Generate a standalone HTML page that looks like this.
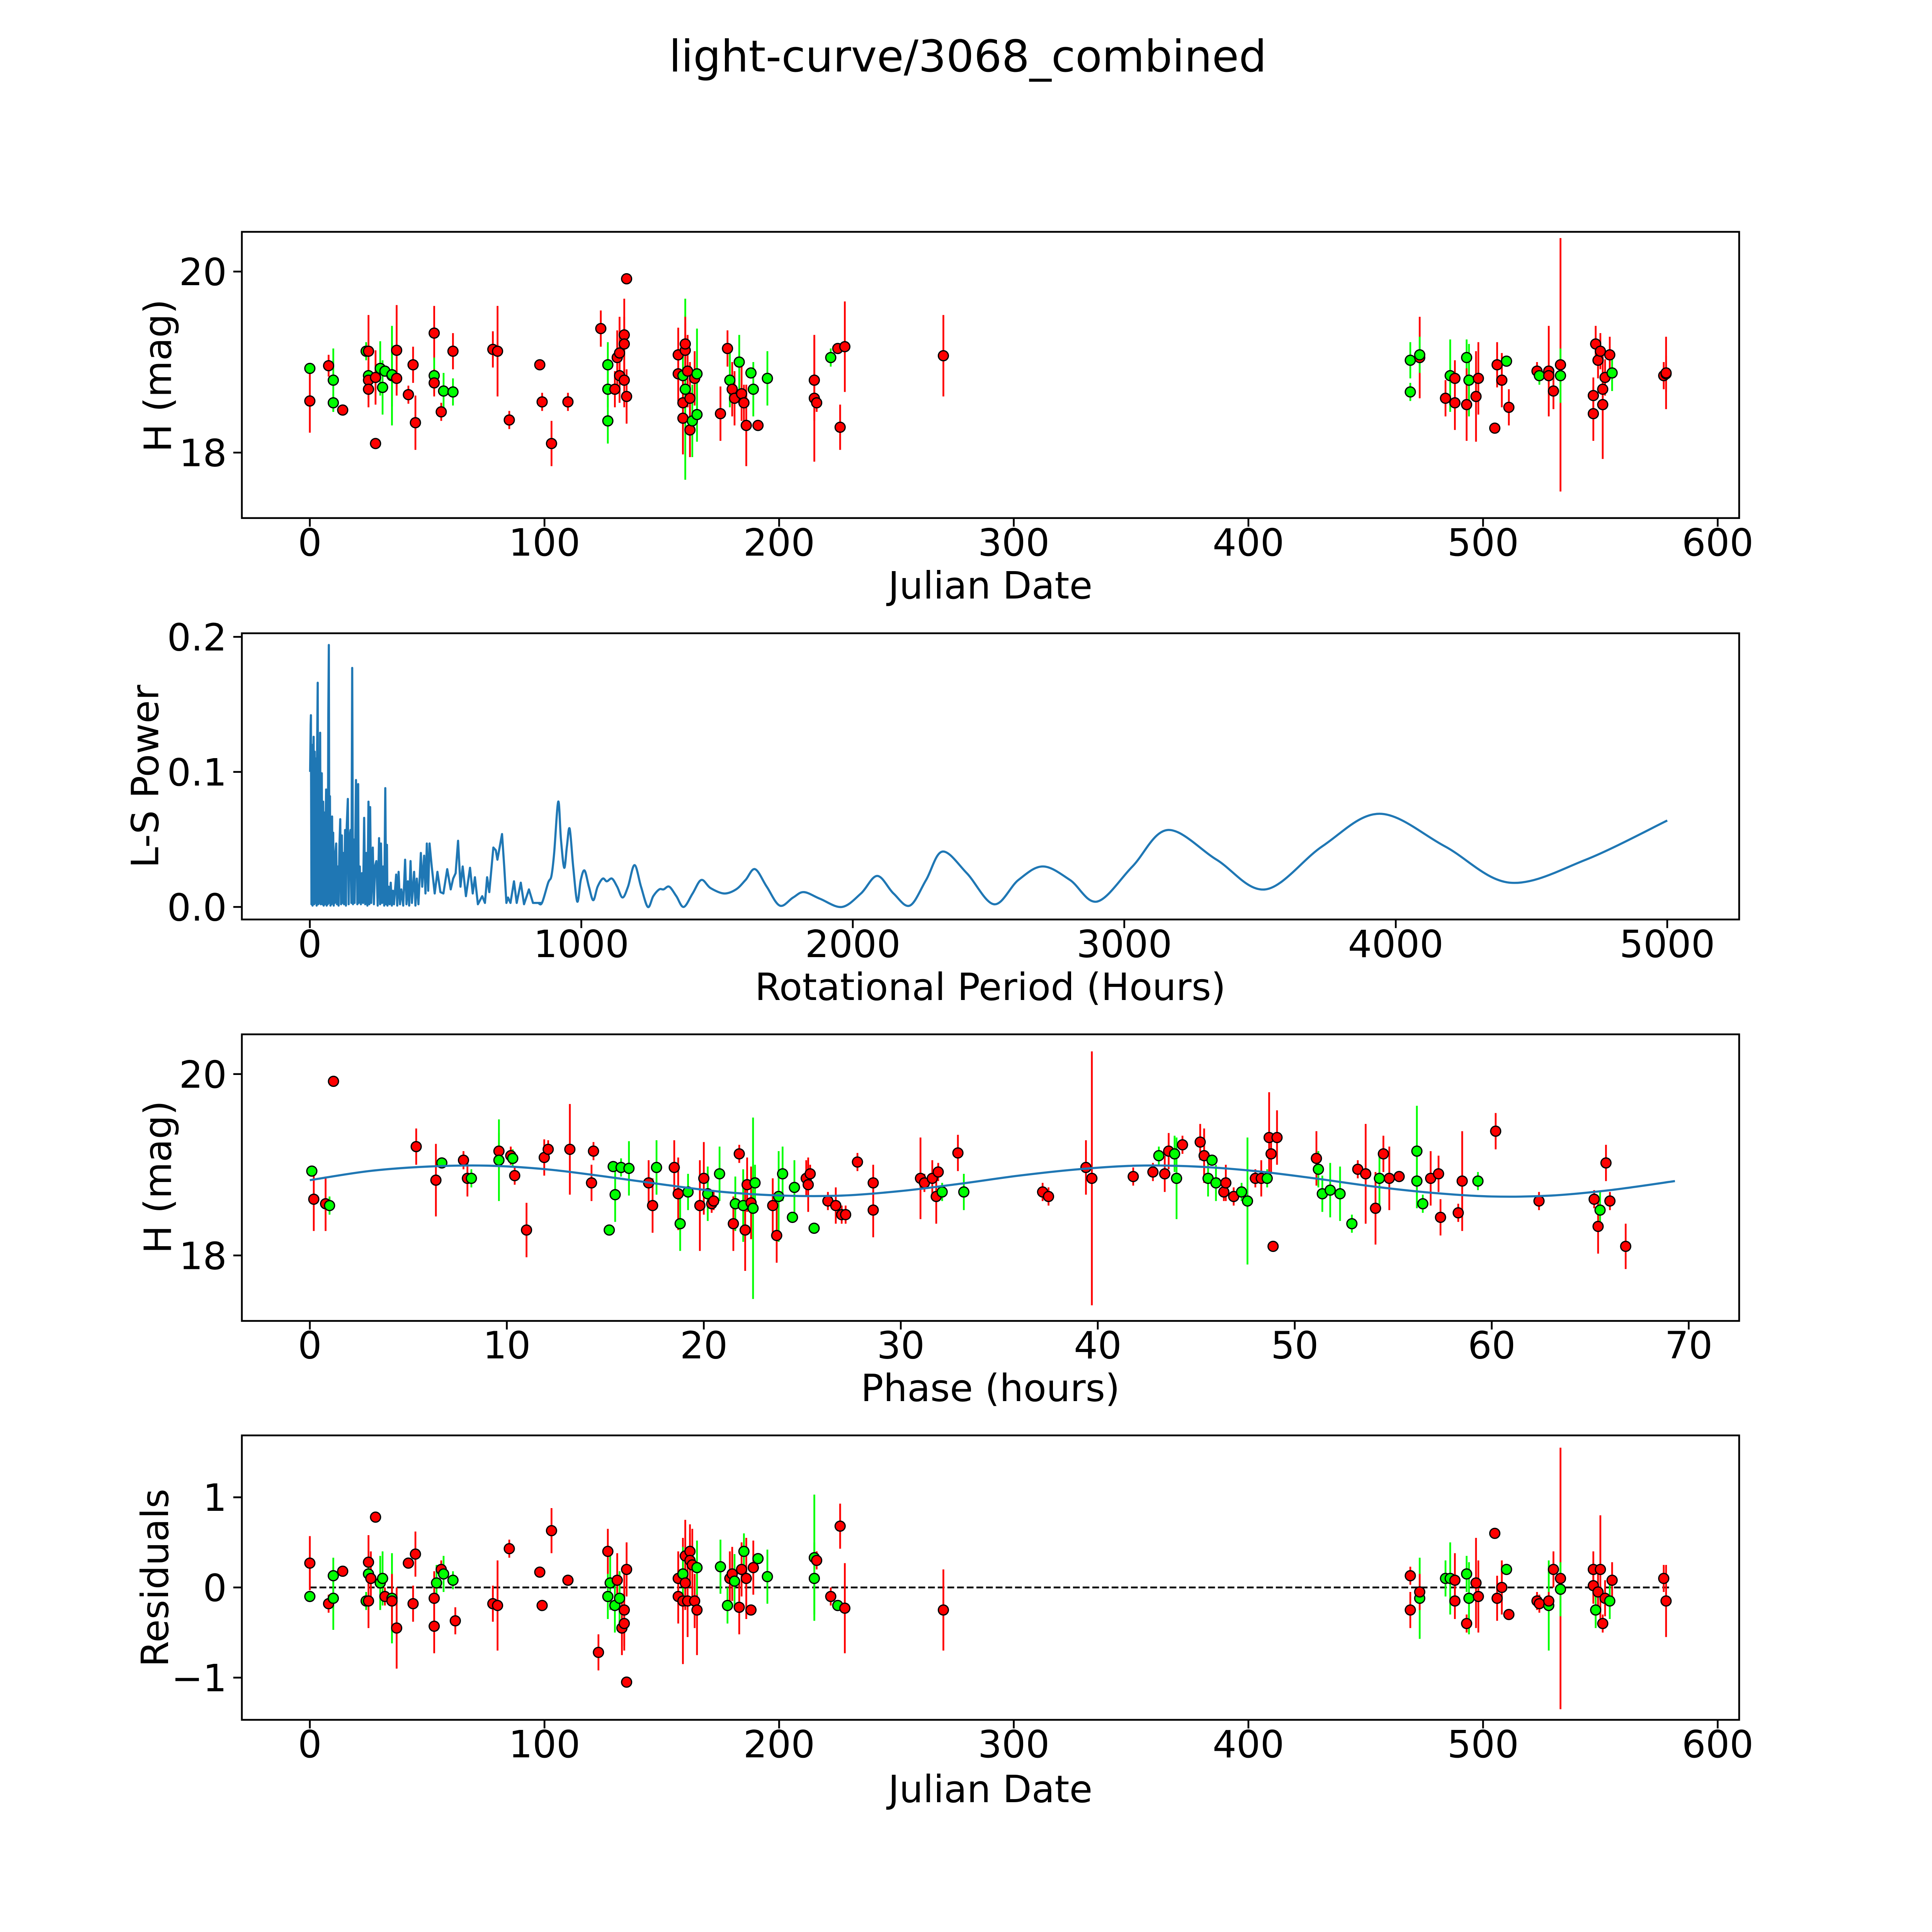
<!DOCTYPE html>
<html><head><meta charset="utf-8"><title>light-curve/3068_combined</title>
<style>
html,body{margin:0;padding:0;background:#fff;width:100%;height:100%;overflow:hidden;}
svg{display:block;width:100vw;height:100vh;font-family:"DejaVu Sans","Liberation Sans",sans-serif;}
</style></head>
<body>
<svg id="fig" viewBox="0 0 5400 5400" preserveAspectRatio="xMidYMid meet" xmlns="http://www.w3.org/2000/svg">
<rect x="0" y="0" width="5400" height="5400" fill="#fff"/>
<text x="2705" y="200" font-size="122" text-anchor="middle">light-curve/3068_combined</text>
</svg>
<script>
// ---------- Panel 1: light curve (Julian date) ----------
const p1X=[0,0,8,10,10,14,24,25,25,25,25,28,28,30,31,32,35,35,37,37,42,44,45,53,53,53,56,57,61,61,78,80,85,98,99,103,110,124,127,127,127,130,131,132,132,134,134,135,135,134,157,157,159,159,159,160,160,160,161,162,162,163,164,165,165,175,178,179,180,181,183,184,185,186,188,189,191,195,215,215,216,222,225,226,228,270,469,469,473,473,484,486,488,488,493,493,494,497,498,505,506,508,510,511,523,524,528,528,530,533,533,547,547,548,549,550,551,551,552,555,554,577,578,578];
const p1Y=[18.93,18.57,18.96,18.8,18.55,18.47,19.12,19.12,18.85,18.8,18.7,18.1,18.83,18.93,18.72,18.9,18.85,18.86,19.13,18.82,18.64,18.97,18.33,19.32,18.85,18.77,18.45,18.68,19.12,18.67,19.14,19.12,18.36,18.97,18.56,18.1,18.56,19.37,18.97,18.7,18.35,18.7,19.05,18.85,19.1,19.3,19.2,19.92,18.62,18.8,18.87,19.08,18.85,18.55,18.38,18.7,19.13,19.2,18.9,18.25,18.6,18.35,18.82,18.87,18.42,18.43,19.15,18.8,18.7,18.6,19.0,18.65,18.55,18.3,18.88,18.7,18.3,18.82,18.8,18.6,18.55,19.05,19.15,18.28,19.17,19.07,19.02,18.67,19.05,19.08,18.6,18.85,18.55,18.82,19.05,18.53,18.8,18.62,18.82,18.27,18.97,18.8,19.01,18.5,18.9,18.85,18.9,18.85,18.68,18.97,18.85,18.43,18.63,19.2,19.02,19.12,18.53,18.7,18.83,18.88,19.08,18.85,18.87,18.88];
const p1E=[0.05,0.35,0.12,0.35,0.1,0.05,0.1,0.4,0.1,0.2,0.2,0.05,0.3,0.3,0.3,0.05,0.55,0.35,0.5,0.1,0.1,0.2,0.3,0.3,0.2,0.15,0.1,0.2,0.2,0.15,0.2,0.5,0.1,0.05,0.1,0.25,0.1,0.2,0.25,0.2,0.25,0.2,0.3,0.3,0.4,0.4,0.3,0.02,0.3,0.3,0.3,0.3,0.3,0.3,0.4,1.0,0.3,0.3,0.4,0.3,0.4,0.4,0.3,0.5,0.3,0.3,0.2,0.3,0.3,0.3,0.3,0.3,0.2,0.45,0.05,0.3,0.05,0.3,0.45,0.7,0.1,0.1,0.05,0.25,0.5,0.45,0.2,0.1,0.45,0.2,0.2,0.4,0.3,0.2,0.2,0.4,0.4,0.5,0.4,0.05,0.25,0.3,0.05,0.2,0.1,0.1,0.5,0.1,0.2,1.4,0.3,0.3,0.2,0.2,0.2,0.2,0.6,0.1,0.2,0.2,0.2,0.15,0.2,0.4];
const p1C="grrggrgrgrrrrgggggrrrrrrgrrgrgrrrrrrrrgggrrrrrrrrrrrgrrgrrrrrgrggrrgrrgrrrggrgrrrgrrrrggrgrgrrgrgrrrrrgrrgrrrrgrrrrrrrrgrrrrrgg".split("");

// ---------- Panel 2: Lomb-Scargle periodogram ----------
const lsPeriod=[
 1,3,4,6,8,10,12,14,16,18,
 20,22,25,27,29,31,33,35,38,40,
 42,44,46,49,51,53,55,58,60,62,
 64,66,68,70,72,74,76,78,80,82,
 84,86,88,90,92,94,97,100,103,106,
 109,112,115,118,120,123,126,130,133,136,
 140,143,146,150,153,156,159,162,165,170,
 175,178,180,184,188,192,196,200,204,208,
 212,216,219,222,226,232,236,240,245,250,
 255,259,262,266,270,274,278,281,284,286,
 290,294,298,302,306,310,318,322,327,332,
 337,344,351,356,361,366,371,376,384,389,
 394,400,409,414,421,426,431,436,441,449,
 460,470,481,492,506,519,528,537,546,555,
 563,575,590,600,608,619,635,645,653,661,
 676,685,691,708,716,724,730,739,752,762,
 777,789,807,822,840,855,878,890,900,915,
 925,937,947,957,970,985,998,1012,1028,1044,
 1060,1079,1094,1113,1132,1152,1172,1196,1220,1245,
 1265,1287,1303,1324,1350,1377,1410,1442,1476,1526,
 1570,1605,1640,1683,1731,1780,1820,1880,1960,2030,
 2090,2150,2210,2270,2330,2420,2520,2610,2700,2800,
 2900,3030,3160,3340,3520,3730,3940,4180,4420,4700,
 5000];
const lsPower=[
 0.100,0.135,0.142,0.002,0.120,0.001,0.100,0.126,0.002,0.115,
 0.003,0.110,0.001,0.120,0.166,0.002,0.095,0.003,0.129,0.002,
 0.088,0.099,0.002,0.078,0.001,0.070,0.002,0.060,0.087,0.001,
 0.080,0.002,0.140,0.194,0.003,0.082,0.001,0.060,0.002,0.067,
 0.004,0.055,0.001,0.030,0.003,0.040,0.047,0.002,0.030,0.001,
 0.045,0.065,0.002,0.053,0.003,0.040,0.002,0.057,0.001,0.060,
 0.080,0.002,0.050,0.057,0.003,0.177,0.002,0.050,0.003,0.094,
 0.002,0.091,0.003,0.030,0.002,0.025,0.003,0.066,0.002,0.040,
 0.001,0.078,0.002,0.074,0.003,0.044,0.002,0.030,0.034,0.001,
 0.051,0.002,0.047,0.003,0.030,0.001,0.088,0.002,0.046,0.001,
 0.015,0.002,0.018,0.001,0.012,0.002,0.024,0.001,0.026,0.002,
 0.013,0.001,0.035,0.002,0.019,0.001,0.034,0.003,0.026,0.001,
 0.021,0.002,0.040,0.015,0.038,0.010,0.047,0.012,0.047,0.030,
 0.010,0.026,0.011,0.010,0.028,0.013,0.021,0.025,0.049,0.015,
 0.030,0.008,0.029,0.010,0.022,0.002,0.008,0.003,0.022,0.011,
 0.044,0.042,0.035,0.054,0.030,0.003,0.007,0.003,0.019,0.003,
 0.018,0.002,0.013,0.003,0.003,0.003,0.018,0.023,0.040,0.078,
 0.050,0.029,0.045,0.058,0.030,0.004,0.020,0.027,0.015,0.005,
 0.015,0.021,0.019,0.021,0.015,0.007,0.015,0.031,0.015,0.000,
 0.008,0.013,0.013,0.015,0.008,0.000,0.010,0.020,0.014,0.010,
 0.013,0.020,0.028,0.015,0.001,0.007,0.011,0.006,0.000,0.010,
 0.023,0.010,0.001,0.020,0.041,0.025,0.002,0.020,0.030,0.020,
 0.004,0.030,0.057,0.035,0.013,0.045,0.069,0.045,0.018,0.035,
 0.064];
const lsSmoothFrom=860;
const lsTicksX=[0,1000,2000,3000,4000,5000];
const lsTicksY=["0.0","0.1","0.2"];

// ---------- Panel 3: phase-folded ----------
const phX=[0.1,0.2,0.8,1.0,1.2,5.4,6.4,6.7,7.8,8.0,8.2,9.6,9.6,10.2,10.3,10.4,11.0,11.9,12.1,13.2,14.3,14.4,15.2,15.4,15.5,15.8,16.2,17.2,17.4,17.6,18.5,18.7,18.8,19.2,19.8,20.0,20.2,20.4,20.5,20.8,21.5,21.6,21.8,22.0,22.1,22.2,22.4,22.5,22.6,23.5,23.7,23.8,24.0,24.5,24.6,25.2,25.3,25.4,25.6,26.3,26.7,27.0,27.2,27.8,28.6,28.6,31.0,31.2,31.6,31.8,31.9,32.1,32.9,33.2,37.2,37.5,39.4,39.7,41.8,42.8,43.1,43.4,43.6,43.9,44.0,44.3,45.2,45.4,45.6,45.8,46.0,46.4,46.5,46.9,47.3,47.6,48.0,48.3,48.6,48.7,48.8,48.9,49.1,51.1,51.2,51.4,51.8,52.3,52.9,53.2,53.6,54.1,54.3,54.5,54.8,55.3,56.2,56.2,56.5,56.9,57.3,57.4,58.3,58.5,59.3,60.2,62.4,65.2,65.4,65.5,65.8,66.0,66.8];
const phY=[18.93,18.62,18.57,18.55,19.92,19.2,18.83,19.02,19.05,18.85,18.85,19.15,19.05,19.1,19.07,18.88,18.28,19.08,19.17,19.17,18.8,19.15,18.28,18.98,18.67,18.97,18.96,18.8,18.55,18.97,18.97,18.68,18.35,18.7,18.55,18.85,18.68,18.57,18.6,18.9,18.35,18.57,19.12,18.55,18.28,18.78,18.58,18.52,18.8,18.55,18.22,18.65,18.9,18.42,18.75,18.85,18.78,18.9,18.3,18.6,18.55,18.45,18.45,19.03,18.5,18.8,18.85,18.8,18.85,18.65,18.92,18.7,19.13,18.7,18.7,18.65,18.97,18.85,18.87,18.92,19.1,18.9,19.15,19.12,18.85,19.22,19.25,19.1,18.85,19.05,18.8,18.7,18.8,18.65,18.7,18.6,18.85,18.85,18.85,19.3,19.12,18.1,19.3,19.07,18.95,18.68,18.72,18.68,18.35,18.95,18.9,18.52,18.85,19.12,18.85,18.87,18.82,19.15,18.57,18.85,18.9,18.42,18.47,18.82,18.82,19.37,18.6,18.62,18.32,18.5,19.02,18.6,18.1];
const phE=[0.05,0.35,0.3,0.1,0.02,0.2,0.4,0.05,0.1,0.2,0.1,0.2,0.45,0.1,0.1,0.1,0.3,0.2,0.1,0.5,0.2,0.1,0.05,0.05,0.3,0.1,0.3,0.25,0.3,0.3,0.3,0.4,0.3,0.2,0.5,0.4,0.3,0.1,0.1,0.3,0.3,0.3,0.1,0.4,0.45,0.3,0.4,1.0,0.2,0.3,0.3,0.5,0.3,0.05,0.3,0.2,0.3,0.1,0.05,0.1,0.2,0.1,0.1,0.1,0.3,0.2,0.45,0.1,0.2,0.3,0.1,0.1,0.2,0.2,0.1,0.1,0.3,1.4,0.1,0.1,0.1,0.2,0.2,0.2,0.45,0.1,0.2,0.3,0.2,0.05,0.2,0.1,0.2,0.1,0.1,0.7,0.1,0.2,0.1,0.5,0.2,0.05,0.3,0.3,0.2,0.2,0.3,0.3,0.1,0.1,0.55,0.4,0.3,0.2,0.35,0.05,0.3,0.5,0.1,0.3,0.2,0.2,0.1,0.55,0.1,0.2,0.1,0.1,0.3,0.2,0.2,0.1,0.25];
const phC="grrgrrrgrrgrgrgrrrrrrrgggggrrgrrggrrgrrgrgrgrrrggrrggggrrrgrrrrrrrrrrrrgrgrrrrrrgrrggrrrgggrrrggrrgrrrrrgggggrrrgrrrgggrrrrrgrrrrgrr".split("");
const modelPhase=[0,3,6,9,12,15,18,21,24,27,30,33,36,39,42,45,48,51,54,57,60,63,66,69.3];
const modelMag=[18.83,18.93,18.98,18.99,18.95,18.87,18.78,18.70,18.66,18.66,18.71,18.79,18.88,18.95,18.99,18.98,18.93,18.85,18.76,18.69,18.65,18.66,18.72,18.82];

// ---------- Panel 4: residuals ----------
const rsX=[0,0,8,10,10,14,24,25,25,26,25,28,30,31,32,35,37,35,42,44,45,53,53,54,56,57,61,62,78,80,85,98,99,103,110,123,127,127,128,130,131,132,133,134,135,135,134,157,157,159,159,160,160,161,162,162,163,164,165,165,175,178,179,180,181,183,184,185,186,188,189,191,195,215,215,216,222,225,226,228,270,469,469,473,473,484,486,488,488,493,493,494,497,498,505,506,508,510,511,523,524,528,528,530,533,533,547,547,548,549,550,551,552,555,554,577,578];
const rsY=[0.27,-0.1,-0.18,0.13,-0.12,0.18,-0.15,0.28,0.15,0.1,-0.15,0.78,0.05,0.1,-0.1,-0.12,-0.45,-0.15,0.27,-0.18,0.37,-0.12,-0.43,0.05,0.2,0.15,0.08,-0.37,-0.18,-0.2,0.43,0.17,-0.2,0.63,0.08,-0.72,0.4,-0.1,0.05,-0.2,0.08,-0.12,-0.45,-0.25,-1.05,0.2,-0.4,-0.1,0.1,-0.15,0.15,0.35,0.05,-0.15,0.4,0.3,0.25,-0.15,-0.25,0.22,0.23,-0.2,0.1,0.15,0.07,-0.22,0.2,0.4,0.1,-0.25,0.22,0.32,0.12,0.33,0.1,0.3,-0.1,-0.2,0.68,-0.23,-0.25,0.13,-0.25,-0.12,-0.05,0.1,0.1,0.08,-0.15,0.15,-0.4,-0.12,0.05,-0.1,0.6,-0.12,0.0,0.2,-0.3,-0.15,-0.18,-0.2,-0.15,0.2,0.1,-0.02,0.2,0.02,-0.25,-0.05,0.2,-0.4,-0.12,0.08,-0.15,0.1,-0.15];
const rsE=[0.3,0.05,0.1,0.2,0.35,0.05,0.1,0.3,0.1,0.3,0.3,0.05,0.3,0.3,0.1,0.5,0.45,0.3,0.05,0.2,0.25,0.3,0.3,0.2,0.1,0.2,0.1,0.15,0.2,0.5,0.1,0.05,0.05,0.25,0.05,0.2,0.25,0.25,0.3,0.3,0.3,0.3,0.3,0.4,0.02,0.3,0.3,0.3,0.3,0.7,0.3,0.4,0.3,0.4,0.3,0.3,0.4,0.3,0.5,0.3,0.3,0.2,0.3,0.3,0.3,0.3,0.3,0.2,0.45,0.05,0.3,0.05,0.3,0.7,0.4,0.1,0.1,0.05,0.25,0.5,0.45,0.1,0.2,0.45,0.2,0.2,0.4,0.3,0.2,0.2,0.1,0.4,0.5,0.4,0.05,0.25,0.3,0.05,0.05,0.1,0.1,0.5,0.1,0.2,1.45,0.3,0.2,0.2,0.2,0.2,0.6,0.1,0.2,0.2,0.2,0.15,0.4];
const rsC="rgrggrgrgrrrggrgrrrrrrrgrggrrrrrrrrrrgggrgrrrrrrrrgrrrrrrrrgggrrgrrgrrrggggrrgrrrrrgrggrrgrgrrrrrgrrrgrrrgrrgrrrrrgrrrrrrrg".split("");

const jdTicks=[0,100,200,300,400,500,600];
const phTicks=[0,10,20,30,40,50,60,70];

// ---------- helpers ----------
const NS="http://www.w3.org/2000/svg";
const svg=document.getElementById("fig");
function mk(tag,attrs,parent){const e=document.createElementNS(NS,tag);for(const k in attrs)e.setAttribute(k,attrs[k]);(parent||svg).appendChild(e);return e;}
const L=676,R=4861;
function lin(d0,d1,p0,p1){return v=>p0+(v-d0)*(p1-p0)/(d1-d0);}
const jdX=lin(0,600,866,4801);
const lsX=lin(0,5000,866,4660);
const phXs=lin(0,70,866,4720);
const FS=105;
function colorOf(c){return c==="g"?"#00ff00":"#ff0000";}
function catmull(pts){
  let d="";
  for(let i=0;i<pts.length-1;i++){
    const p0=pts[Math.max(0,i-1)],p1=pts[i],p2=pts[i+1],p3=pts[Math.min(pts.length-1,i+2)];
    d+="C"+(p1[0]+(p2[0]-p0[0])/6).toFixed(1)+","+(p1[1]+(p2[1]-p0[1])/6).toFixed(1)+" "+(p2[0]-(p3[0]-p1[0])/6).toFixed(1)+","+(p2[1]-(p3[1]-p1[1])/6).toFixed(1)+" "+p2[0].toFixed(1)+","+p2[1].toFixed(1);
  }
  return d;
}

function axesFrame(name,top,bot){
  const g=mk("g",{});
  
  
  const r=mk("rect",{x:L,y:top,width:R-L,height:bot-top,fill:"none",stroke:"#000","stroke-width":5},g);
  
  
  return g;
}
function xTicks(g,ticks,sx,bot,labels,name){
  ticks.forEach((t,i)=>{
    const x=sx(t);
    const tl=mk("line",{x1:x,x2:x,y1:bot,y2:bot+24,stroke:"#000","stroke-width":5},g);
    
    
    const tx=mk("text",{x:x,y:bot+105,"font-size":FS,"text-anchor":"middle"},g);
    tx.textContent=labels?labels[i]:String(t);
    
    
  });
}
function yTicks(g,vals,sy,labels,name){
  vals.forEach((v,i)=>{
    const y=sy(v);
    const tl=mk("line",{x1:L-24,x2:L,y1:y,y2:y,stroke:"#000","stroke-width":5},g);
    
    
    const tx=mk("text",{x:L-42,y:y+38,"font-size":FS,"text-anchor":"end"},g);
    tx.textContent=labels[i];
    
    
  });
}
function label(g,txt,x,y,rot,name){
  const t=mk("text",{x:x,y:y,"font-size":FS,"text-anchor":"middle"},g);
  if(rot)t.setAttribute("transform","rotate(-90 "+x+" "+y+")");
  t.textContent=txt;
  
  
}
function errPoints(g,xs,ys,es,cs,sx,sy,name){
  const eg=mk("g",{},g);
  
  
  xs.forEach((x,i)=>{
    const l=mk("line",{x1:sx(x),x2:sx(x),y1:sy(ys[i]-es[i]),y2:sy(ys[i]+es[i]),stroke:colorOf(cs[i]),"stroke-width":5},eg);
    
    
  });
  const pg=mk("g",{},g);
  
  
  xs.forEach((x,i)=>{
    const c=mk("circle",{cx:sx(x),cy:sy(ys[i]),r:14,fill:colorOf(cs[i]),stroke:"#000","stroke-width":3.5},pg);
    
    
  });
}

// ---------- Panel 1 ----------
{
  const top=648,bot=1448;
  const sy=lin(18,20,1265,759);
  const g=axesFrame("light-curve-axes",top,bot);
  const clip=mk("clipPath",{id:"c1"},g);mk("rect",{x:L,y:top,width:R-L,height:bot-top},clip);
  const inner=mk("g",{"clip-path":"url(#c1)"},g);
  errPoints(inner,p1X,p1Y,p1E,p1C,jdX,sy,"light-curve");
  xTicks(g,jdTicks,jdX,bot,null,"light-curve-x");
  yTicks(g,[18,20],sy,["18","20"],"light-curve-y");
  label(g,"Julian Date",2768,1673,false,"light-curve-x-axis-title");
  label(g,"H (mag)",478,1050,true,"light-curve-y-axis-title");
}
// ---------- Panel 2 ----------
{
  const top=1770,bot=2570;
  const sy=lin(0,0.2,2535,1780);
  const g=axesFrame("periodogram-axes",top,bot);
  const n=Math.min(lsPeriod.length,lsPower.length);
  const sharp=[],smooth=[];
  for(let i=0;i<n;i++){
    const pt=[lsX(lsPeriod[i]),sy(lsPower[i])];
    if(lsPeriod[i]<=lsSmoothFrom)sharp.push(pt);
    if(lsPeriod[i]>=lsSmoothFrom-40)smooth.push(pt);
  }
  let d="";
  sharp.forEach((p,i)=>{d+=(i?"L":"M")+p[0].toFixed(1)+","+p[1].toFixed(1);});
  d+="L"+smooth[0][0].toFixed(1)+","+smooth[0][1].toFixed(1)+catmull(smooth);
  const path=mk("path",{d:d,fill:"none",stroke:"#1f77b4","stroke-width":6,"stroke-linejoin":"round"},g);
  
  
  xTicks(g,lsTicksX,lsX,bot,null,"periodogram-x");
  yTicks(g,[0,0.1,0.2],sy,lsTicksY,"periodogram-y");
  label(g,"Rotational Period (Hours)",2768,2795,false,"periodogram-x-axis-title");
  label(g,"L-S Power",442,2170,true,"periodogram-y-axis-title");
}
// ---------- Panel 3 ----------
{
  const top=2891,bot=3692;
  const sy=lin(18,20,3509,3002);
  const g=axesFrame("phase-axes",top,bot);
  const clip=mk("clipPath",{id:"c3"},g);mk("rect",{x:L,y:top,width:R-L,height:bot-top},clip);
  const inner=mk("g",{"clip-path":"url(#c3)"},g);
  errPoints(inner,phX,phY,phE,phC,phXs,sy,"phase");
  const pts=modelPhase.map((p,i)=>[phXs(p),sy(modelMag[i])]);
  const d="M"+pts[0][0]+","+pts[0][1]+catmull(pts);
  const mp=mk("path",{d:d,fill:"none",stroke:"#1f77b4","stroke-width":6},g);
  
  
  xTicks(g,phTicks,phXs,bot,null,"phase-x");
  yTicks(g,[18,20],sy,["18","20"],"phase-y");
  label(g,"Phase (hours)",2768,3916,false,"phase-x-axis-title");
  label(g,"H (mag)",478,3290,true,"phase-y-axis-title");
}
// ---------- Panel 4 ----------
{
  const top=4012,bot=4807;
  const sy=lin(-1,1,4689,4185);
  const g=axesFrame("residuals-axes",top,bot);
  const zl=mk("line",{x1:jdX(0),x2:jdX(580),y1:sy(0),y2:sy(0),stroke:"#000","stroke-width":5,"stroke-dasharray":"19,8"},g);
  
  
  const clip=mk("clipPath",{id:"c4"},g);mk("rect",{x:L,y:top,width:R-L,height:bot-top},clip);
  const inner=mk("g",{"clip-path":"url(#c4)"},g);
  errPoints(inner,rsX,rsY,rsE,rsC,jdX,sy,"residual");
  xTicks(g,jdTicks,jdX,bot,null,"residuals-x");
  yTicks(g,[-1,0,1],sy,["\u22121","0","1"],"residuals-y");
  label(g,"Julian Date",2768,5037,false,"residuals-x-axis-title");
  label(g,"Residuals",470,4410,true,"residuals-y-axis-title");
}
</script>
</body></html>
